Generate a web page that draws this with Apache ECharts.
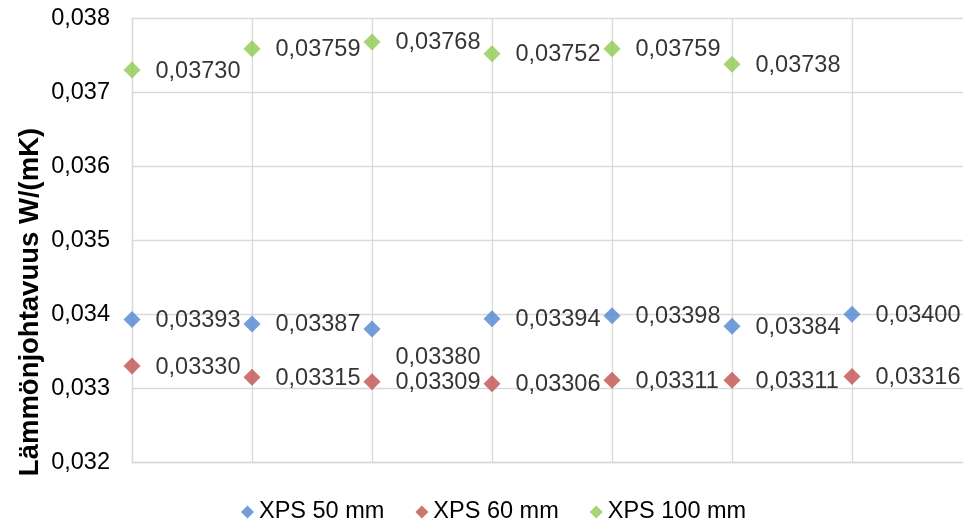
<!DOCTYPE html>
<html>
<head>
<meta charset="utf-8">
<script src="https://cdn.jsdelivr.net/npm/echarts@6/dist/echarts.min.js"></script>
<style>
  html, body { margin: 0; padding: 0; background: #ffffff; }
  #chart { width: 963px; height: 526px; }
</style>
</head>
<body>
<div id="chart"></div>
<script>
// Measurement positions (x index) and thermal conductivity values, W/(mK)
const positions = [0, 1, 2, 3, 4, 5, 6];
const seriesNames = ['XPS 50 mm', 'XPS 60 mm', 'XPS 100 mm'];
const xps50 = [0.03393, 0.03387, 0.03380, 0.03394, 0.03398, 0.03384, 0.03400];
const xps60 = [0.03330, 0.03315, 0.03309, 0.03306, 0.03311, 0.03311, 0.03316];
const xps100 = [0.03730, 0.03759, 0.03768, 0.03752, 0.03759, 0.03738];
const yTicks = { min: 0.032, max: 0.038, step: 0.001 };
const axisTitle = 'Lämmönjohtavuus W/(mK)';

const FONT = '"Liberation Sans", Arial, sans-serif';
const colors = ['#4f86cf', '#c0504d', '#8fc94f'];
const gridColor = '#d9d9d9';

const comma = (v, d) => v.toFixed(d).replace('.', ',');

function buildData(values, shifted) {
  return values.map((v, i) => {
    const item = { value: [positions[i], v] };
    if (shifted && shifted[i]) {
      item.label = { offset: [0, shifted[i]] };
    }
    return item;
  });
}

function makeSeries(name, values, color, shifted) {
  return {
    name: name,
    type: 'scatter',
    symbol: 'diamond',
    symbolSize: 17,
    itemStyle: { color: color },
    data: buildData(values, shifted),
    label: {
      show: true,
      position: 'right',
      distance: 15,
      offset: [0, 1],
      color: '#000',
      fontFamily: FONT,
      fontSize: 23.5,
      formatter: p => comma(p.value[1], 5)
    },
    emphasis: { disabled: true }
  };
}

const chart = echarts.init(document.getElementById('chart'), null, { renderer: 'canvas' });

chart.setOption({
  animation: false,
  backgroundColor: '#ffffff',
  color: colors,
  // plot area runs a little past the right edge of the page
  grid: {
    left: 132, top: 18.3, width: 840, bottom: 63.7,
    containLabel: false,
    outerBoundsMode: 'none'
  },
  xAxis: {
    type: 'value',
    min: 0,
    max: 7,
    interval: 1,
    axisLabel: { show: false },
    axisTick: { show: false },
    axisLine: { show: true, lineStyle: { color: gridColor, width: 1.3 } },
    splitLine: { show: true, lineStyle: { color: gridColor, width: 1.3 } }
  },
  yAxis: {
    type: 'value',
    min: yTicks.min,
    max: yTicks.max,
    interval: yTicks.step,
    axisTick: { show: false },
    axisLine: { show: true, lineStyle: { color: gridColor, width: 1.3 } },
    splitLine: { show: true, lineStyle: { color: gridColor, width: 1.3 } },
    axisLabel: {
      margin: 22,
      color: '#000',
      fontFamily: FONT,
      fontSize: 23.5,
      formatter: v => comma(v, 3)
    }
  },
  legend: {
    left: 241,
    top: 500,
    padding: 0,
    itemWidth: 13,
    itemHeight: 13,
    itemGap: 31,
    icon: 'diamond',
    textStyle: { color: '#000', fontFamily: FONT, fontSize: 23.5, lineHeight: 24 },
    data: seriesNames
  },
  graphic: [{
    type: 'text',
    x: 30,
    y: 302,
    rotation: Math.PI / 2,
    style: {
      text: axisTitle,
      fill: '#000',
      font: 'bold 27.5px ' + FONT,
      textAlign: 'center',
      textVerticalAlign: 'middle'
    }
  }],
  series: [
    makeSeries(seriesNames[0], xps50, colors[0], { 2: 28 }),
    makeSeries(seriesNames[1], xps60, colors[1]),
    makeSeries(seriesNames[2], xps100, colors[2])
  ]
});
</script>
</body>
</html>
